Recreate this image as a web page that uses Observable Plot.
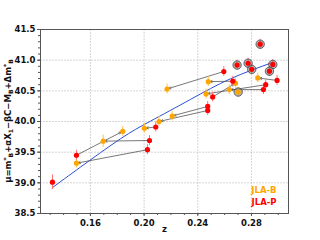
<!DOCTYPE html>
<html><head><meta charset="utf-8">
<script src="https://cdn.jsdelivr.net/npm/d3@7"></script>
<script src="https://cdn.jsdelivr.net/npm/@observablehq/plot@0.6"></script>
<style>body{margin:0;background:#fff}#c{position:relative;width:320px;height:240px}</style>
</head><body><div id="c"></div>
<script>
const seriesNames = ["JLA-B", "JLA-P"];
const seriesColors = ["#FFA500", "#FF0000"];
// JLA-P (red) points with matching JLA-B (orange) counterparts
const redZ  = [0.1317, 0.1496, 0.2025, 0.2040, 0.2087, 0.2474, 0.2474, 0.2511, 0.2594, 0.2661, 0.2889, 0.2906, 0.2991];
const redMu = [39.01, 39.45, 39.54, 39.69, 39.91, 40.245, 40.18, 40.40, 40.815, 40.657, 40.52, 40.60, 40.67];
const orZ   = [null, 0.1841, 0.1496, 0.1695, 0.2002, 0.2209, 0.2111, 0.2681, 0.2171, 0.2478, 0.2634, 0.2462, 0.2847];
const orMu  = [null, 39.84, 39.32, 39.68, 39.89, 40.09, 40.00, 40.625, 40.53, 40.65, 40.52, 40.45, 40.71];
const redErr = [0.12, 0.08, 0.08, 0.08, 0.08, 0.08, 0.08, 0.08, 0.08, 0.08, 0.08, 0.08, 0.08];
const orErr  = [null, 0.08, 0.08, 0.10, 0.08, 0.08, 0.08, 0.08, 0.08, 0.08, 0.08, 0.08, 0.08];
// circled (flagged) points
const circRedZ  = [0.2693, 0.2775, 0.2802, 0.2865, 0.2959, 0.2934];
const circRedMu = [40.92, 40.95, 40.85, 41.26, 40.93, 40.82];
const circOrZ  = [0.2701];
const circOrMu = [40.48];
// model curve samples
const curveZ  = [0.1315, 0.1525, 0.1824, 0.2047, 0.2345, 0.2643, 0.2964];
const curveMu = [38.919, 39.255, 39.718, 40.005, 40.359, 40.696, 40.967];
const xTicks = [0.16, 0.20, 0.24, 0.28];
const yTicks = [38.5, 39.0, 39.5, 40.0, 40.5, 41.0, 41.5];

const red = redZ.map((z, i) => ({z, mu: redMu[i], e: redErr[i]}));
const orange = orZ.map((z, i) => ({z, mu: orMu[i], e: orErr[i]})).filter(d => d.z != null);
const pairs = redZ.map((z, i) => ({z1: z, m1: redMu[i], z2: orZ[i], m2: orMu[i]})).filter(d => d.z2 != null);
const circRed = circRedZ.map((z, i) => ({z, mu: circRedMu[i], e: 0.08}));
const circOr = circOrZ.map((z, i) => ({z, mu: circOrMu[i], e: 0.08}));
const curve = curveZ.map((z, i) => ({z, mu: curveMu[i]}));
const allRed = red.concat(circRed);
const allOr = orange.concat(circOr);
const circAll = circRed.concat(circOr);
const minorX = d3.range(0.13, 0.305, 0.01);
const minorY = d3.range(38.5, 41.51, 0.1);

const font = "DejaVu Sans";
const chart = Plot.plot({
  width: 320, height: 240,
  marginLeft: 40, marginRight: 32, marginTop: 29, marginBottom: 27,
  style: {fontFamily: font, fontSize: "8px", background: "#fff"},
  x: {domain: [0.1228, 0.3076]},
  y: {domain: [38.5, 41.5]},
  marks: [
    Plot.gridX(xTicks, {stroke: "#bbb", strokeOpacity: 0.6, strokeDasharray: "2,1"}),
    Plot.gridY(yTicks, {stroke: "#bbb", strokeOpacity: 0.6, strokeDasharray: "2,1"}),
    Plot.axisX(minorX, {tickSize: 2, text: null, stroke: "#555"}),
    Plot.axisY(minorY, {tickSize: 2, text: null, stroke: "#555"}),
    Plot.axisX(xTicks, {tickSize: 3, tickFormat: ".2f", fontWeight: "bold", fontSize: 8.5, fill: "#111", stroke: "#555", label: null, tickPadding: 3}),
    Plot.axisY(yTicks, {tickSize: 3, tickFormat: ".1f", fontWeight: "bold", fontSize: 8.5, fill: "#111", stroke: "#555", label: null, tickPadding: 2}),
    Plot.line(curve, {x: "z", y: "mu", stroke: "#2a4fd6", strokeWidth: 1, curve: "natural"}),
    Plot.arrow(pairs, {x1: "z1", y1: "m1", x2: "z2", y2: "m2", stroke: "#555", strokeWidth: 0.8, headLength: 4, insetEnd: 2, insetStart: 2, bend: 0}),
    Plot.ruleX(allOr, {x: "z", y1: d => d.mu - d.e, y2: d => d.mu + d.e, stroke: "#FFC34D", strokeWidth: 1}),
    Plot.ruleX(allRed, {x: "z", y1: d => d.mu - d.e, y2: d => d.mu + d.e, stroke: "#FF7070", strokeWidth: 1}),
    Plot.dot(circAll, {x: "z", y: "mu", r: 4.2, fill: "#999", fillOpacity: 0.7, stroke: "#333", strokeWidth: 0.7}),
    Plot.dot(allOr, {x: "z", y: "mu", r: 2.6, fill: seriesColors[0]}),
    Plot.dot(allRed, {x: "z", y: "mu", r: 2.6, fill: seriesColors[1]}),
    Plot.text([seriesNames[0]], {frameAnchor: "bottom-right", dx: -12, dy: -21, fill: seriesColors[0], fontWeight: "bold", fontSize: 8.5}),
    Plot.text([seriesNames[1]], {frameAnchor: "bottom-right", dx: -12, dy: -9, fill: seriesColors[1], fontWeight: "bold", fontSize: 8.5}),
    Plot.text(["z"], {frameAnchor: "bottom", dy: 18, fontWeight: "bold", fontSize: 8.5, fill: "#111"}),
    Plot.frame({stroke: "#555", strokeWidth: 1})
  ]
});
document.getElementById("c").appendChild(chart);
// y-axis label with sub/superscripts
const svg = d3.select(chart);
const t = svg.append("text")
  .attr("transform", "translate(11,121) rotate(-90)")
  .attr("text-anchor", "middle")
  .attr("font-family", font).attr("font-weight", "bold").attr("font-size", 8.5).attr("fill", "#111");
const parts = [["μ=m",0,0],["*",-3,1],["B",5,1],["+αX",-2,0],["1",2,1],["−βC−M",-2,0],["B",2,1],["+Δm",-2,0],["*",-3,1],["B",5,1]];
parts.forEach(([s, dy, small]) => {
  t.append("tspan").attr("dy", dy).attr("font-size", small ? 6 : 8.5).text(s);
});
</script></body></html>
